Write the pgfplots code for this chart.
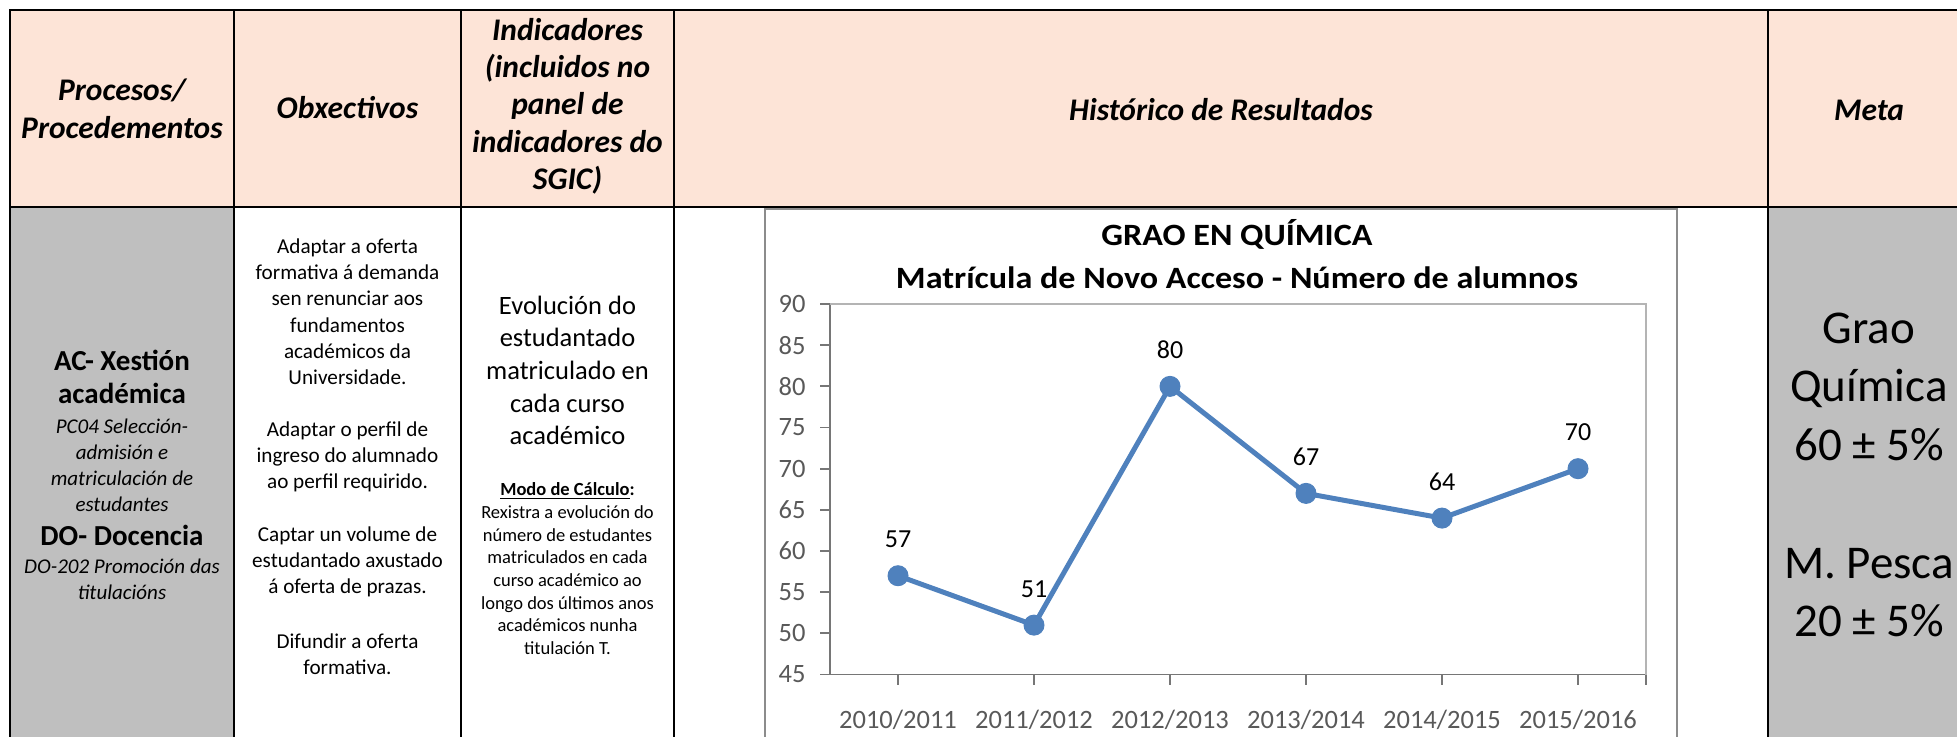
\documentclass[border=0pt]{standalone}
\usepackage{pgfplots}
\pgfplotsset{compat=1.18}
\usepackage{fontspec}
\setmainfont{Carlito}
\newfontfamily\titlefont{Carlito}[FakeStretch=1.1]
\definecolor{hdrfill}{HTML}{FDE4D7}
\definecolor{grayfill}{HTML}{BFBFBF}
\definecolor{lineblue}{HTML}{4F81BD}
\definecolor{ticktext}{HTML}{595959}
\definecolor{axisgray}{HTML}{767676}
\definecolor{plotborder}{HTML}{B4B4B4}
\definecolor{framegray}{HTML}{8C8C8C}
\newcommand\fs[1]{\fontsize{#1}{#1}\selectfont}
\newcommand\putline[4]{\node[anchor=base,inner sep=0pt,font={#3}] at (#1,#2) {#4};}
\begin{document}
\begin{tikzpicture}
\useasboundingbox (0pt,0pt) rectangle (978.5pt,-368pt);
\clip (0pt,0pt) rectangle (978.5pt,-368pt);
\begin{scope}[x=0.5pt,y=-0.5pt]
% fills
\fill[hdrfill] (10,10) rectangle (1975,207);
\fill[grayfill] (10,207) rectangle (234,760);
\fill[grayfill] (1768,207) rectangle (1975,760);
% chart frame
\draw[framegray, line width=1pt] (765,209) rectangle (1676.7,770);
% table borders
\draw[line width=1.3pt] (1975,10) -- (10,10) -- (10,760);
\draw[line width=1.3pt] (10,207) -- (1975,207);
\foreach \x in {234,461,674,1768} \draw[line width=1.3pt] (\x,10) -- (\x,760);
% header texts
\def\hf{\fs{15.75}\bfseries\itshape}
\putline{122}{100}{\hf}{Procesos/}
\putline{122}{138.3}{\hf}{Procedementos}
\putline{347.5}{118}{\hf}{Obxectivos}
\putline{567.5}{40.5}{\hf}{Indicadores}
\putline{567.5}{77.7}{\hf}{(incluidos no}
\putline{567.5}{114.9}{\hf}{panel de}
\putline{567.5}{152.1}{\hf}{indicadores do}
\putline{567.5}{189.3}{\hf}{SGIC)}
\putline{1221}{120}{\hf}{Histórico de Resultados}
\putline{1869}{120}{\hf}{Meta}
% column 1
\def\bf{\fs{14.5}\bfseries}
\def\itf{\fs{10.5}\itshape}
\putline{122}{370}{\bf}{AC- Xestión}
\putline{122}{403.3}{\bf}{académica}
\putline{122}{433.3}{\itf}{PC04 Selección-}
\putline{122}{459.3}{\itf}{admisión e}
\putline{122}{485.7}{\itf}{matriculación de}
\putline{122}{511.7}{\itf}{estudantes}
\putline{122}{545}{\bf}{DO- Docencia}
\putline{122}{573.3}{\itf}{DO-202 Promoción das}
\putline{122}{599.3}{\itf}{titulacións}
% column 2
\def\cf{\fs{10.6}}
\putline{347.5}{253.5}{\cf}{Adaptar a oferta}
\putline{347.5}{279.7}{\cf}{formativa á demanda}
\putline{347.5}{305.9}{\cf}{sen renunciar aos}
\putline{347.5}{332.1}{\cf}{fundamentos}
\putline{347.5}{358.3}{\cf}{académicos da}
\putline{347.5}{384.5}{\cf}{Universidade.}
\putline{347.5}{436.5}{\cf}{Adaptar o perfil de}
\putline{347.5}{462.6}{\cf}{ingreso do alumnado}
\putline{347.5}{488.8}{\cf}{ao perfil requirido.}
\putline{347.5}{541}{\cf}{Captar un volume de}
\putline{347.5}{567.2}{\cf}{estudantado axustado}
\putline{347.5}{593.4}{\cf}{á oferta de prazas.}
\putline{347.5}{648}{\cf}{Difundir a oferta}
\putline{347.5}{674.2}{\cf}{formativa.}
% column 3
\def\ef{\fs{13.25}}
\def\sf{\fs{9.25}}
\putline{567.5}{314.3}{\ef}{Evolución do}
\putline{567.5}{346.7}{\ef}{estudantado}
\putline{567.5}{379.3}{\ef}{matriculado en}
\putline{567.5}{412}{\ef}{cada curso}
\putline{567.5}{444.3}{\ef}{académico}
\putline{567.5}{495}{\sf}{\bfseries\underline{Modo de Cálculo}:}
\putline{567.5}{518.3}{\sf}{Rexistra a evolución do}
\putline{567.5}{541}{\sf}{número de estudantes}
\putline{567.5}{563.6}{\sf}{matriculados en cada}
\putline{567.5}{586.3}{\sf}{curso académico ao}
\putline{567.5}{609}{\sf}{longo dos últimos anos}
\putline{567.5}{631.7}{\sf}{académicos nunha}
\putline{567.5}{654.3}{\sf}{titulación T.}
% meta
\def\mf{\fs{23.5}}
\putline{1869}{343}{\mf}{Grao}
\putline{1869}{401.7}{\mf}{Química}
\putline{1869}{460}{\mf}{60 ± 5\%}
\putline{1869}{578.3}{\mf}{M. Pesca}
\putline{1869}{636.7}{\mf}{20 ± 5\%}
% chart titles
\putline{1237}{245}{\titlefont\fs{15.5}\bfseries}{GRAO EN QUÍMICA}
\putline{1237}{288}{\titlefont\fs{15.5}\bfseries}{Matrícula de Novo Acceso - Número de alumnos}
\end{scope}
\begin{axis}[
  at={(415pt,-337.25pt)}, anchor=south west,
  scale only axis, width=408pt, height=185.25pt,
  xmin=-0.5, xmax=5.5, ymin=45, ymax=90,
  axis lines*=left,
  axis line style={draw=axisgray, line width=0.9pt, -},
  xtick={0,1,2,3,4,5},
  xticklabels={2010/2011,2011/2012,2012/2013,2013/2014,2014/2015,2015/2016},
  extra x ticks={5.5}, extra x tick labels={},
  ytick={45,50,...,90},
  tick align=outside, major tick length=5pt,
  tick style={draw=axisgray, line width=0.9pt},
  /pgf/number format/assume math mode=true,
  ticklabel style={font=\fs{13.25}, text=ticktext},
  yticklabel style={inner sep=0pt, xshift=-7pt},
  xticklabel style={inner sep=0pt, anchor=base, yshift=-21.75pt},
  clip=false,
  nodes near coords,
  nodes near coords style={font=\fs{13}, text=black, anchor=base, inner sep=0pt, yshift=14pt},
]
\draw[plotborder, line width=0.8pt] (rel axis cs:0,1) -- (rel axis cs:1,1) -- (rel axis cs:1,0);
\addplot[color=lineblue, line width=2.5pt, line join=round, mark=*, mark size=5pt,
  mark options={solid, fill=lineblue, line width=0.5pt}]
  coordinates {(0,57) (1,51) (2,80) (3,67) (4,64) (5,70)};
\end{axis}
\end{tikzpicture}
\end{document}
